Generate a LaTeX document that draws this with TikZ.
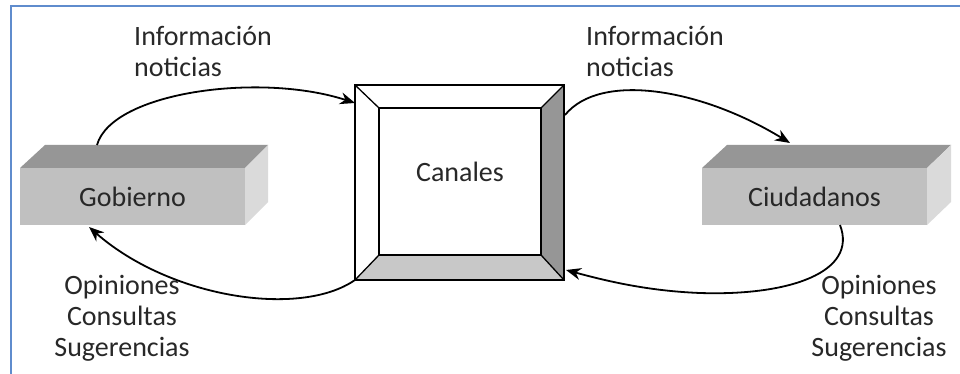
\documentclass[tikz,border=0pt]{standalone}
\usepackage{fontspec}
\setmainfont{Carlito}
\usetikzlibrary{arrows.meta}
\definecolor{framecol}{RGB}{95,140,205}
\definecolor{frontgray}{RGB}{192,192,192}
\definecolor{topgray}{RGB}{150,150,150}
\definecolor{sidegray}{RGB}{218,218,218}
\definecolor{beveldark}{RGB}{150,150,150}
\definecolor{bevellight}{RGB}{200,200,200}
\definecolor{txt}{RGB}{40,40,40}
\begin{document}
\begin{tikzpicture}[x=1pt,y=-1pt,
  lbl/.style={font=\fontsize{28}{31}\selectfont, text=txt, inner sep=0pt, align=center},
  frontface/.style={fill=frontgray, draw=none, inner sep=0pt, font=\fontsize{28}{31}\selectfont, text=txt},
  topface/.style={fill=topgray, draw=none},
  sideface/.style={fill=sidegray, draw=none},
  conn/.style={line width=1.8pt, -{Stealth[length=15pt,width=12pt]}},
  bevel/.style={draw=black, line width=1.3pt}
]
\useasboundingbox (0,0) rectangle (960,374);
\fill[white] (0,0) rectangle (960,374);
% frame
\draw[framecol, line width=2.2pt] (11,380) -- (11,6) -- (965,6);

% Gobierno box
\fill[topface] (20,168) -- (45,145) -- (268,145) -- (245,168) -- cycle;
\fill[sideface] (245,168) -- (268,145) -- (268,202) -- (245,225) -- cycle;
\node[frontface, minimum width=225pt, minimum height=57pt] (gob) at (132.5,196.5) {Gobierno};

% Ciudadanos box
\fill[topface] (702,168) -- (727,145) -- (951,145) -- (927,168) -- cycle;
\fill[sideface] (927,168) -- (951,145) -- (951,202) -- (927,225) -- cycle;
\node[frontface, minimum width=225pt, minimum height=57pt] (ciu) at (814.5,196.5) {Ciudadanos};

% Canales bevelled box
\node[draw=none, fill=white, minimum width=209pt, minimum height=195pt, inner sep=0pt] (can) at (459.5,182.5) {};
\coordinate (o1) at (355,85); \coordinate (o2) at (564,85);
\coordinate (o3) at (564,280); \coordinate (o4) at (355,280);
\coordinate (i1) at (379,108); \coordinate (i2) at (541,108);
\coordinate (i3) at (541,255); \coordinate (i4) at (379,255);
\fill[beveldark] (o2) -- (o3) -- (i3) -- (i2) -- cycle;
\fill[bevellight] (o4) -- (o3) -- (i3) -- (i4) -- cycle;
\draw[bevel] (o1) -- (o2) -- (o3) -- (o4) -- cycle;
\draw[bevel] (i1) -- (i2) -- (i3) -- (i4) -- cycle;
\draw[bevel] (o1) -- (i1) (o2) -- (i2) (o3) -- (i3) (o4) -- (i4);
\node[lbl] (cantxt) at (460,172) {Canales};

% labels
\node[lbl, anchor=north west, align=left] (inf1) at (134,26) {Información\\noticias};
\node[lbl, anchor=north west, align=left] (inf2) at (586,26) {Información\\noticias};
\node[lbl] (op1) at (122,318) {Opiniones\\Consultas\\Sugerencias};
\node[lbl] (op2) at (879,318) {Opiniones\\Consultas\\Sugerencias};

% connector endpoints
\coordinate (g1) at (97,145);
\coordinate (c1) at (355,103);
\coordinate (c2) at (565,115);
\coordinate (z1) at (790,143);
\coordinate (z2) at (840,225);
\coordinate (c3) at (566,270);
\coordinate (c4) at (355,280);
\coordinate (g2) at (89,227);

\draw[conn] (g1) .. controls (112,92) and (260,72) .. (c1);
\draw[conn] (c2) .. controls (600,72) and (700,88) .. (z1);
\draw[conn] (z2) .. controls (858,272) and (790,296) .. (700,293) .. controls (650,291) and (610,282) .. (c3);
\draw[conn] (c4) .. controls (300,318) and (170,298) .. (g2);
\end{tikzpicture}
\end{document}
